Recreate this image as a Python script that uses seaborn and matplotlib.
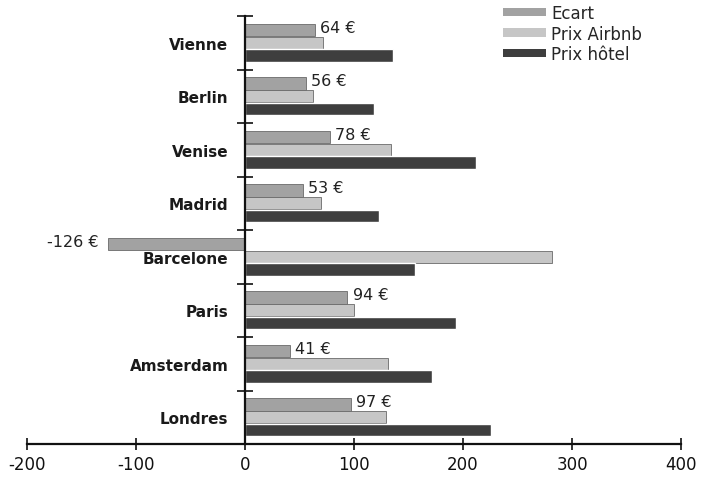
import matplotlib
matplotlib.use("Agg")
import matplotlib.pyplot as plt
import numpy as np
import pandas as pd
import seaborn as sns

villes = ["Vienne", "Berlin", "Venise", "Madrid", "Barcelone", "Paris", "Amsterdam", "Londres"]
ecart = [64, 56, 78, 53, -126, 94, 41, 97]
prix_airbnb = [72, 62, 134, 70, 282, 100, 131, 129]
prix_hotel = [136, 118, 212, 123, 156, 194, 172, 226]
series = ["Ecart", "Prix Airbnb", "Prix hôtel"]
x_ticks = [-200, -100, 0, 100, 200, 300, 400]

df = pd.DataFrame({
    "ville": villes * 3,
    "serie": [s for s in series for _ in villes],
    "valeur": ecart + prix_airbnb + prix_hotel,
})

sns.set_theme(style="white")
plt.rcParams["font.family"] = ["DejaVu Sans"]

fig = plt.figure(figsize=(7.04, 4.81), dpi=100)
ax = fig.add_axes([27 / 704, 36 / 481, 654 / 704, 428 / 481])

palette = {"Ecart": "#a2a2a2", "Prix Airbnb": "#c6c6c6", "Prix hôtel": "#3e3e3e"}
sns.barplot(data=df, x="valeur", y="ville", hue="serie", order=villes,
            hue_order=series, palette=palette, orient="h", width=0.72,
            gap=0.03, saturation=1, ax=ax, legend=False)

# thin outline on the two lighter series
for cont in ax.containers[:2]:
    for rect in cont:
        rect.set_edgecolor("#6a6a6a")
        rect.set_linewidth(0.6)

# value labels next to the "Ecart" bars
ecart_bars = ax.containers[0]
for rect, v in zip(ecart_bars, ecart):
    yc = rect.get_y() + rect.get_height() / 2 - 0.05
    if v >= 0:
        ax.text(v + 5, yc, f"{v} €", ha="left", va="center", fontsize=11.5, color="#222222")
    else:
        ax.text(v - 8, yc, f"{v} €", ha="right", va="center", fontsize=11.5, color="#222222")

ax.set_xlim(-200, 400)
ax.set_ylim(len(villes) - 0.5, -0.5)
ax.set_xlabel("")
ax.set_ylabel("")

# spines: vertical axis at zero, horizontal axis at the bottom
for side in ("top", "right"):
    ax.spines[side].set_visible(False)
ax.spines["left"].set_position(("data", 0))
for side in ("left", "bottom"):
    ax.spines[side].set_color("#111111")
    ax.spines[side].set_linewidth(1.6)

ax.set_xticks(x_ticks)
ax.set_xticklabels([str(t) for t in x_ticks], fontsize=12)
ax.tick_params(axis="x", bottom=True, direction="inout", length=8, width=1.2,
               color="#111111", pad=4, labelcolor="#111111")

ax.set_yticks(np.arange(len(villes)))
ax.set_yticklabels(villes, fontsize=11, fontweight="bold", color="#1a1a1a")
ax.tick_params(axis="y", which="major", left=True, length=0, pad=12)
ax.set_yticks(np.arange(len(villes) + 1) - 0.5, minor=True)
ax.tick_params(axis="y", which="minor", left=True, direction="inout", length=12,
               width=1.2, color="#111111")

handles = [plt.Rectangle((0, 0), 1, 1, facecolor=palette[s], edgecolor="none") for s in series]
ax.legend(handles, series, loc="upper left", bbox_to_anchor=(503 / 704, 1 - 5 / 481),
          bbox_transform=fig.transFigure, frameon=False, fontsize=12,
          handlelength=2.6, handleheight=0.4, labelspacing=0.15, handletextpad=0.3,
          borderaxespad=0, borderpad=0)

fig.savefig("out.png", dpi=100)
